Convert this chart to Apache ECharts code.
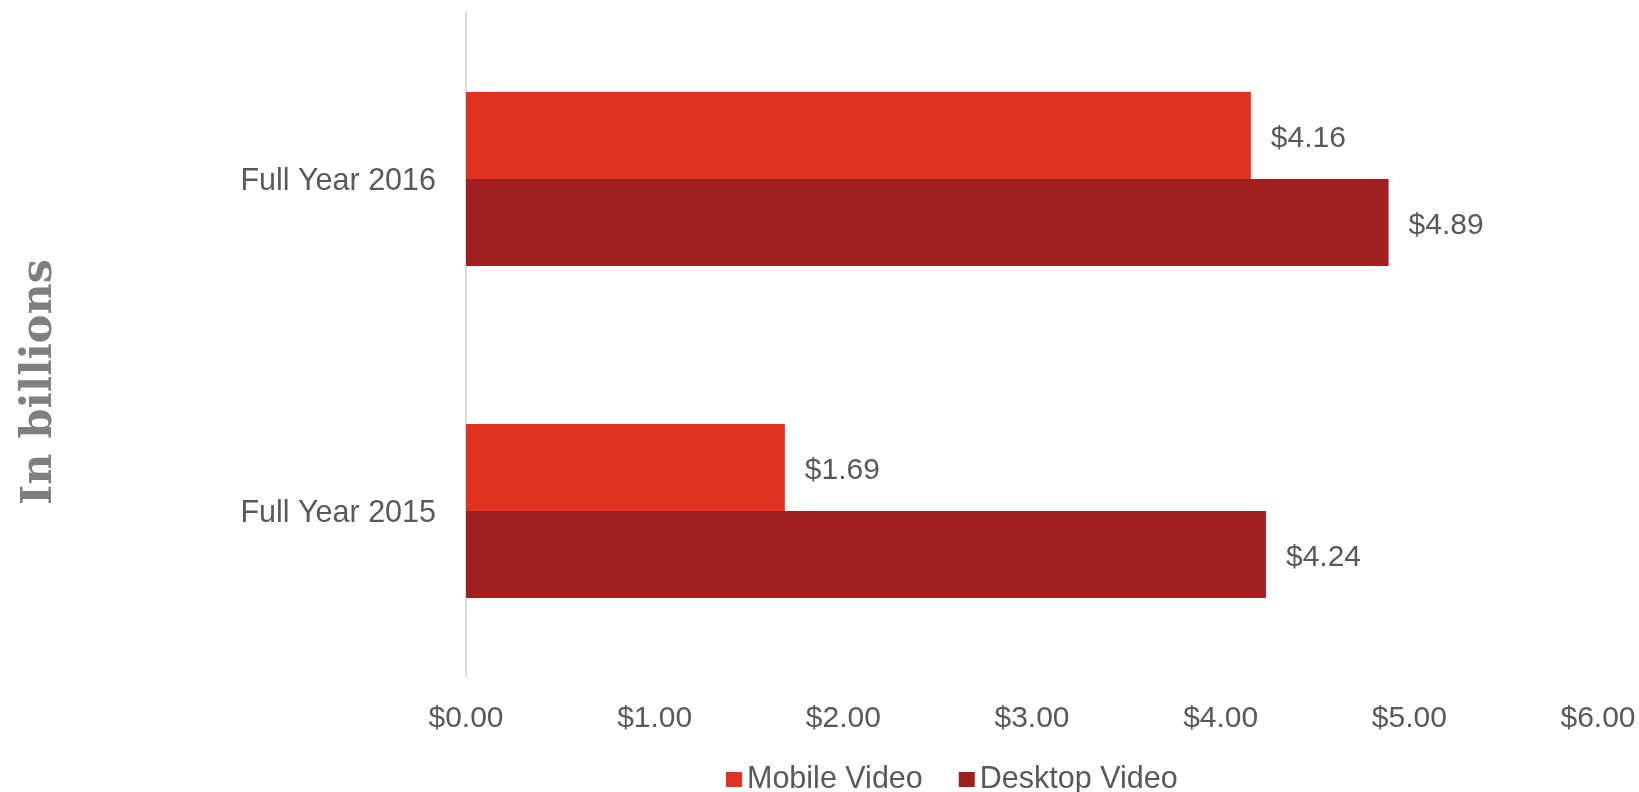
<!DOCTYPE html>
<html>
<head>
<meta charset="utf-8">
<script src="https://cdn.jsdelivr.net/npm/echarts@6/dist/echarts.min.js"></script>
<style>
  html, body { margin: 0; padding: 0; background: #ffffff; }
  #chart { width: 1639px; height: 792px; }
</style>
</head>
<body>
<div id="chart"></div>
<script>
// Categories listed bottom-to-top (category axis runs upward)
const categories = ['Full Year 2015', 'Full Year 2016'];
const mobileVideo = [1.69, 4.16];
const desktopVideo = [4.24, 4.89];
const axisTicks = [0, 1, 2, 3, 4, 5, 6];

const money = v => '$' + Number(v).toFixed(2);
const labelFont = 'Liberation Sans, Arial, sans-serif';

const chart = echarts.init(document.getElementById('chart'), null, { renderer: 'canvas' });

const valueLabel = {
  show: true,
  position: 'right',
  distance: 20,
  offset: [0, 3],
  color: '#595959',
  fontFamily: labelFont,
  fontSize: 30,
  formatter: p => money(p.value)
};

chart.setOption({
  animation: false,
  backgroundColor: '#ffffff',
  grid: { left: 466, right: 41, top: 13, bottom: 115, containLabel: false },
  legend: {
    data: ['Mobile Video', 'Desktop Video'],
    top: 759,
    left: 721,
    icon: 'rect',
    itemWidth: 16,
    itemHeight: 15,
    itemGap: 36,
    textStyle: { color: '#595959', fontFamily: labelFont, fontSize: 30.5 }
  },
  xAxis: {
    type: 'value',
    min: axisTicks[0],
    max: axisTicks[axisTicks.length - 1],
    interval: 1,
    axisLine: { show: false },
    axisTick: { show: false },
    splitLine: { show: false },
    axisLabel: {
      color: '#595959',
      fontFamily: labelFont,
      fontSize: 30,
      margin: 27,
      formatter: money
    }
  },
  yAxis: {
    type: 'category',
    data: categories,
    axisLine: { show: true, lineStyle: { color: '#d9d9d9', width: 2 } },
    axisTick: { show: false },
    axisLabel: {
      margin: 30,
      formatter: v => '{cat|' + v + '}',
      rich: {
        cat: {
          color: '#595959',
          fontFamily: labelFont,
          fontSize: 30.5,
          padding: [6, 0, 0, 0]
        }
      }
    }
  },
  series: [
    {
      name: 'Mobile Video',
      type: 'bar',
      data: mobileVideo,
      itemStyle: { color: '#DF3220' },
      barGap: '0%',
      barCategoryGap: '47.6%',
      label: valueLabel
    },
    {
      name: 'Desktop Video',
      type: 'bar',
      data: desktopVideo,
      itemStyle: { color: '#A01F21' },
      barGap: '0%',
      barCategoryGap: '47.6%',
      label: valueLabel
    }
  ],
  graphic: [
    {
      type: 'text',
      x: 40,
      y: 382,
      rotation: Math.PI / 2,
      style: {
        text: 'In billions',
        fill: '#7f7f7f',
        font: 'bold 43px "DejaVu Serif", serif',
        align: 'center',
        verticalAlign: 'middle'
      }
    }
  ]
});
</script>
</body>
</html>
